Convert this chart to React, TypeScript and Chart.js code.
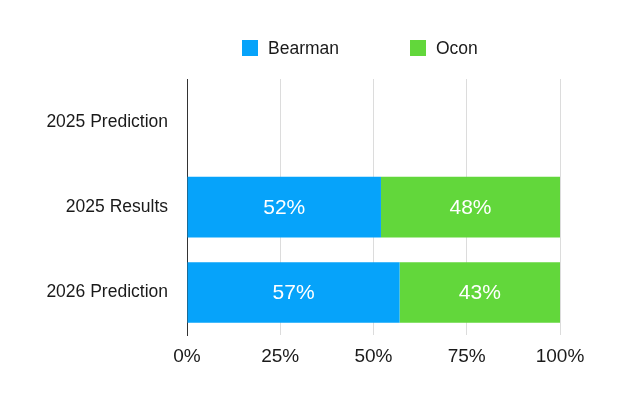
import React, { useEffect, useRef } from "react";
import { Chart, registerables } from "chart.js";

Chart.register(...registerables);

const categories = ["2025 Prediction", "2025 Results", "2026 Prediction"];
const bearman = [null, 52, 57];
const ocon = [null, 48, 43];
const xTicks = ["0%", "25%", "50%", "75%", "100%"];
const seriesNames = ["Bearman", "Ocon"];
const seriesColors = ["#06A3FA", "#62D73B"];

const FONT = "'Liberation Sans', Arial, Helvetica, sans-serif";

const dataLabelPlugin = {
  id: "dataLabels",
  afterDatasetsDraw(chart: any) {
    const ctx = chart.ctx;
    ctx.save();
    ctx.fillStyle = "#ffffff";
    ctx.font = `21px ${FONT}`;
    ctx.textAlign = "center";
    ctx.textBaseline = "middle";
    chart.data.datasets.forEach((ds: any, di: number) => {
      const meta = chart.getDatasetMeta(di);
      meta.data.forEach((el: any, i: number) => {
        const v = ds.data[i];
        if (v == null) return;
        const p = el.getCenterPoint();
        ctx.fillText(`${v}%`, p.x, p.y + 1);
      });
    });
    ctx.restore();
  },
};

const legendPlugin = {
  id: "customLegend",
  afterDraw(chart: any) {
    const ctx = chart.ctx;
    ctx.save();
    ctx.font = `17.5px ${FONT}`;
    ctx.textBaseline = "middle";
    ctx.textAlign = "left";
    const y = 48;
    const box = 16;
    const boxGap = 10;
    const itemGap = 71;
    const widths = seriesNames.map((n) => box + boxGap + ctx.measureText(n).width);
    let x = 242;
    seriesNames.forEach((n, i) => {
      ctx.fillStyle = seriesColors[i];
      ctx.fillRect(x, y - box / 2, box, box);
      ctx.fillStyle = "#1a1a1a";
      ctx.fillText(n, x + box + boxGap, y + 1);
      x += widths[i] + itemGap;
    });
    ctx.restore();
  },
};

export default function App() {
  const ref = useRef<HTMLCanvasElement | null>(null);
  useEffect(() => {
    if (!ref.current) return;
    const chart = new Chart(ref.current, {
      type: "bar",
      data: {
        labels: categories,
        datasets: [
          { label: seriesNames[0], data: bearman, backgroundColor: seriesColors[0], borderWidth: 0 },
          { label: seriesNames[1], data: ocon, backgroundColor: seriesColors[1], borderWidth: 0 },
        ],
      },
      options: {
        indexAxis: "y",
        animation: false,
        responsive: false,
        maintainAspectRatio: false,
        layout: { padding: { top: 79, left: 0, right: 65, bottom: 24 } },
        plugins: {
          legend: { display: false },
          tooltip: { enabled: false },
        },
        datasets: { bar: { categoryPercentage: 0.71, barPercentage: 1 } },
        scales: {
          x: {
            stacked: true,
            min: 0,
            max: 100,
            afterBuildTicks(scale: any) {
              scale.ticks = [0, 25, 50, 75, 100].map((v) => ({ value: v }));
            },
            ticks: {
              callback: (_v: any, i: number) => xTicks[i],
              color: "#1a1a1a",
              font: { family: FONT, size: 19 },
              padding: 10,
              maxRotation: 0,
            },
            grid: { color: "#dcdcdc", lineWidth: 1, drawTicks: false },
            border: { display: false },
          },
          y: {
            stacked: true,
            afterFit(scale: any) {
              scale.width = 187;
            },
            ticks: {
              color: "#1a1a1a",
              font: { family: FONT, size: 17.5 },
              padding: 19,
            },
            grid: { display: false, drawTicks: false },
            border: { display: true, color: "#333333", width: 1 },
          },
        },
      },
      plugins: [dataLabelPlugin, legendPlugin],
    });
    return () => chart.destroy();
  }, []);
  return (
    <div style={{ position: "fixed", left: 0, top: 0, width: 625, height: 402, background: "#fff" }}>
      <canvas ref={ref} width={625} height={402} style={{ width: 625, height: 402 }} />
    </div>
  );
}
